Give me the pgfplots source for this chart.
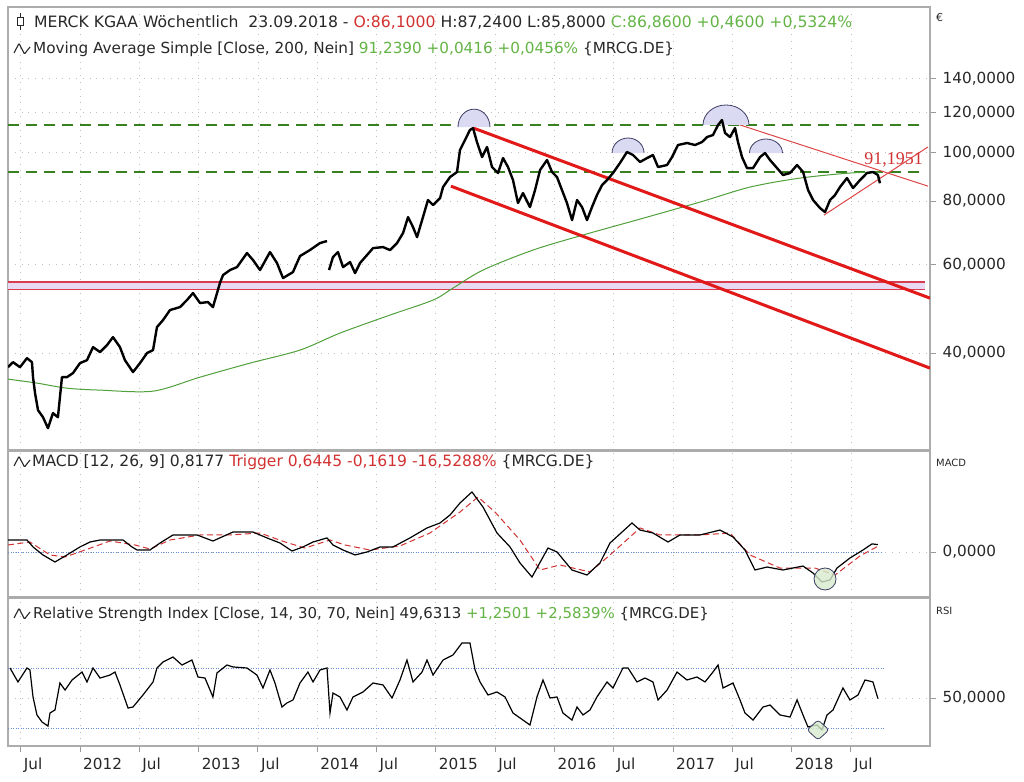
\documentclass[border=0pt]{standalone}
\usepackage{fontspec}
\setmainfont{DejaVu Sans}
\newfontfamily\lserif{Liberation Serif}
\usepackage{pgfplots}
\pgfplotsset{compat=1.18}
\definecolor{txt}{RGB}{40,40,40}
\definecolor{tred}{RGB}{210,50,50}
\definecolor{tgreen}{RGB}{100,180,70}
\definecolor{magreen}{RGB}{80,160,60}
\definecolor{dgreen}{RGB}{55,130,30}
\definecolor{chred}{RGB}{225,25,25}
\definecolor{thinred}{RGB}{220,70,70}
\definecolor{bandfill}{RGB}{232,218,242}
\definecolor{bandline}{RGB}{215,60,80}
\definecolor{semifill}{RGB}{218,218,242}
\definecolor{semidraw}{RGB}{60,60,100}
\definecolor{zblue}{RGB}{100,140,210}
\definecolor{circfill}{RGB}{215,235,205}

\pgfplotstableread{
t v
2011.393 37.51
2011.435 38.38
2011.494 37.51
2011.553 39.08
2011.595 38.38
2011.604 35.84
2011.621 33.32
2011.646 30.83
2011.688 29.85
2011.730 28.39
2011.772 30.41
2011.814 29.85
2011.848 35.84
2011.890 35.84
2011.941 36.51
2012.000 38.21
2012.059 38.73
2012.110 41.10
2012.169 40.18
2012.228 41.49
2012.278 43.02
2012.337 41.10
2012.379 38.73
2012.447 36.68
2012.506 38.21
2012.565 40.00
2012.616 40.55
2012.649 45.03
2012.700 46.50
2012.759 48.68
2012.843 49.34
2012.902 50.95
2012.953 52.61
2013.012 50.26
2013.079 50.49
2013.121 49.34
2013.180 55.07
2013.206 57.11
2013.265 58.43
2013.324 59.23
2013.408 63.15
2013.459 61.16
2013.518 58.43
2013.602 63.44
2013.661 60.33
2013.712 56.33
2013.796 57.90
2013.855 62.28
2013.939 64.02
2014.024 66.10
2014.083 66.71
}\priceA

\pgfplotstableread{
t v
2014.100 58.43
2014.133 61.99
2014.175 63.44
2014.218 59.23
2014.277 60.61
2014.319 57.64
2014.361 60.33
2014.420 62.57
2014.471 64.59
2014.555 64.89
2014.614 64.02
2014.673 66.10
2014.724 69.19
2014.766 74.41
2014.808 71.09
2014.842 67.92
2014.892 74.41
2014.934 80.44
2014.977 78.62
2015.036 81.15
2015.061 85.34
2015.120 89.33
2015.179 91.42
2015.204 101.07
2015.246 105.79
2015.288 110.73
2015.314 111.73
2015.347 104.84
2015.390 97.87
2015.432 102.45
2015.474 93.51
2015.525 91.00
2015.567 97.42
2015.609 93.51
2015.651 88.12
2015.693 79.35
2015.735 83.05
2015.794 77.90
2015.837 84.19
2015.879 92.25
2015.938 96.56
2015.980 91.42
2016.022 89.33
2016.064 84.19
2016.106 79.35
2016.149 73.41
2016.191 80.44
2016.233 77.90
2016.275 73.41
2016.317 77.90
2016.359 82.29
2016.402 86.13
2016.444 88.12
2016.494 91.00
2016.553 95.25
2016.612 100.16
2016.663 98.79
2016.722 95.69
2016.781 97.42
2016.831 98.79
2016.874 93.51
2016.950 94.38
2016.992 97.87
2017.042 103.40
2017.118 104.36
2017.186 103.40
2017.245 104.84
2017.287 107.23
2017.337 108.23
2017.380 113.28
2017.413 115.90
2017.439 109.23
2017.481 107.23
2017.523 111.73
2017.548 104.84
2017.582 97.87
2017.624 93.08
2017.675 93.08
2017.734 97.87
2017.776 99.70
2017.818 96.56
2017.877 93.08
2017.928 90.17
2017.987 91.00
2018.046 94.38
2018.097 91.42
2018.139 84.19
2018.181 80.44
2018.240 77.54
2018.282 76.15
2018.324 80.44
2018.366 82.29
2018.408 85.34
2018.467 88.92
2018.518 84.96
2018.577 88.12
2018.636 91.00
2018.686 91.42
2018.728 90.17
2018.745 86.86
}\priceB

\pgfplotstableread{
t v
2011.393 35.52
2011.637 34.88
2011.890 34.08
2012.169 33.78
2012.616 33.62
2013.012 35.84
2013.433 38.21
2013.855 40.55
2014.192 43.82
2014.614 47.58
2014.977 50.95
2015.145 53.81
2015.398 58.43
2015.820 64.02
2016.241 68.56
2016.722 73.75
2017.228 79.71
2017.650 85.34
2018.072 88.92
2018.494 91.00
2018.745 91.42
}\mavg

\pgfplotstableread{
t m
2011.393 1.33
2011.553 1.33
2011.604 0.56
2011.688 -0.33
2011.789 -1.11
2011.890 -0.33
2012.000 0.56
2012.084 1.11
2012.169 1.33
2012.363 1.33
2012.438 0.56
2012.481 0.22
2012.590 0.22
2012.675 1.00
2012.784 1.89
2012.987 1.89
2013.121 1.22
2013.290 2.22
2013.459 2.22
2013.577 1.56
2013.686 1.00
2013.788 0.11
2013.880 0.56
2013.965 1.11
2014.083 1.56
2014.133 0.78
2014.218 0.22
2014.319 -0.33
2014.420 0.00
2014.530 0.56
2014.639 0.56
2014.782 1.56
2014.926 2.67
2015.035 3.22
2015.120 4.11
2015.204 5.44
2015.305 6.67
2015.398 5.00
2015.516 2.11
2015.626 0.56
2015.710 -1.22
2015.811 -2.78
2015.946 0.44
2016.022 0.00
2016.148 -2.00
2016.275 -2.56
2016.384 -1.22
2016.469 1.00
2016.654 3.22
2016.722 2.44
2016.831 2.11
2016.958 1.11
2017.059 1.89
2017.228 1.89
2017.396 2.44
2017.506 1.67
2017.607 0.22
2017.691 -2.00
2017.793 -1.67
2017.927 -2.00
2018.096 -1.56
2018.180 -2.33
2018.256 -3.33
2018.324 -3.11
2018.383 -1.78
2018.492 -0.67
2018.602 0.22
2018.678 0.90
2018.728 0.82
}\macd

\pgfplotstableread{
t s
2011.393 0.78
2011.578 1.11
2011.747 -0.33
2011.874 -0.56
2012.042 0.22
2012.253 1.22
2012.464 0.78
2012.590 0.33
2012.759 1.33
2013.012 1.89
2013.265 1.89
2013.518 2.11
2013.729 1.11
2013.897 0.44
2014.108 1.33
2014.234 0.78
2014.445 0.22
2014.698 0.67
2014.951 2.11
2015.204 4.44
2015.356 6.11
2015.499 4.44
2015.710 1.33
2015.879 -2.00
2016.047 -1.44
2016.300 -2.22
2016.469 -0.33
2016.722 2.67
2016.890 1.89
2017.228 1.89
2017.481 2.11
2017.649 -0.33
2017.902 -1.78
2018.197 -1.78
2018.366 -2.56
2018.577 -0.44
2018.728 0.64
}\trigger

\pgfplotstableread{
t r
2011.410 70.0
2011.477 60.7
2011.553 70.0
2011.578 68.7
2011.604 50.7
2011.637 38.7
2011.680 34.0
2011.730 31.3
2011.747 40.0
2011.789 42.0
2011.831 60.0
2011.874 55.3
2011.933 62.0
2012.017 67.3
2012.059 60.7
2012.110 70.0
2012.169 63.3
2012.253 65.3
2012.295 67.3
2012.337 58.7
2012.405 43.3
2012.447 44.0
2012.531 52.0
2012.616 60.7
2012.649 70.0
2012.700 74.0
2012.784 77.3
2012.860 72.0
2012.944 75.3
2012.995 64.0
2013.054 63.3
2013.121 50.7
2013.155 66.7
2013.239 72.0
2013.290 70.7
2013.408 70.0
2013.492 65.3
2013.543 56.7
2013.602 68.7
2013.644 60.0
2013.703 44.0
2013.745 46.7
2013.796 48.7
2013.855 60.0
2013.922 67.3
2013.965 60.7
2014.024 68.7
2014.083 70.0
2014.108 40.0
2014.133 53.3
2014.192 50.7
2014.251 42.0
2014.302 50.7
2014.386 54.0
2014.471 60.0
2014.555 58.7
2014.631 50.0
2014.698 62.0
2014.757 75.3
2014.808 60.7
2014.884 67.3
2014.926 75.3
2014.977 65.3
2015.061 75.3
2015.145 78.7
2015.221 86.7
2015.288 86.7
2015.331 68.7
2015.373 60.7
2015.440 52.0
2015.516 54.0
2015.584 50.7
2015.651 40.0
2015.710 36.7
2015.794 32.0
2015.853 50.7
2015.904 62.0
2015.963 50.0
2016.022 50.7
2016.072 40.0
2016.148 35.3
2016.191 44.0
2016.241 38.7
2016.300 42.0
2016.359 50.7
2016.444 60.7
2016.494 56.7
2016.578 70.0
2016.621 70.0
2016.696 60.7
2016.764 63.3
2016.831 60.7
2016.874 48.7
2016.950 55.3
2017.034 67.3
2017.118 62.0
2017.202 64.0
2017.270 60.7
2017.337 67.3
2017.380 72.0
2017.422 56.7
2017.506 60.0
2017.565 48.7
2017.607 40.0
2017.675 35.3
2017.759 44.0
2017.818 45.3
2017.902 38.7
2017.987 37.3
2018.046 48.7
2018.096 38.7
2018.138 30.7
2018.214 32.0
2018.256 28.7
2018.299 38.7
2018.349 42.0
2018.433 56.7
2018.492 48.7
2018.560 52.0
2018.619 62.0
2018.686 60.7
2018.728 49.6
}\rsi

\pgfplotsset{
  panel/.style={
    scale only axis, width=922bp, anchor=south west,
    xmin=2011.393, xmax=2019.167,
    axis line style={draw=gray!65, line width=1.4bp},
    xtick={2011.5,2012,2012.5,2013,2013.5,2014,2014.5,2015,2015.5,2016,2016.5,2017,2017.5,2018,2018.5},
    grid=major,
    grid style={gray!50, line width=0.7bp, dash pattern=on 0.8bp off 6bp},
    ytick pos=right, yticklabel pos=right,
    tick align=outside, major tick length=6bp,
    tick style={gray!80, line width=0.9bp},
    yticklabel style={font=\fontsize{15.3}{18}\selectfont, text=txt, anchor=west, inner sep=1.5bp, xshift=5bp},
  },
  toppanel/.style={panel, xticklabels={}, every major x tick/.style={draw=none}},
}
\newcommand{\wave}[1]{\draw[txt, line width=1.1bp, rounded corners=0.8bp] (14bp,#1bp+1bp) -- (19bp,#1bp+10.5bp) -- (24.5bp,#1bp) -- (30bp,#1bp+7bp);}

\begin{document}
\fontsize{15.3}{18}\selectfont
\begin{tikzpicture}
\useasboundingbox (0bp,0bp) rectangle (1024bp,782bp);
\fill[white] (0bp,0bp) rectangle (1024bp,782bp);

% ---------------- price panel ----------------
\begin{axis}[toppanel, at={(8bp,332bp)}, height=443bp,
  ymode=log, ymin=25.7, ymax=194.2,
  ytick={40,60,80,100,120,140},
  yticklabels={{40,0000},{60,0000},{80,0000},{100,0000},{120,0000},{140,0000}}]
  \fill[bandfill] (axis cs:2011.393,53.5) rectangle (axis cs:2019.125,55.4);
  \addplot[bandline, line width=1.6bp] coordinates {(2011.393,53.5) (2019.125,53.5)};
  \addplot[bandline, line width=1.6bp] coordinates {(2011.393,55.4) (2019.125,55.4)};
  \addplot[dgreen, line width=2.6bp, dash pattern=on 11bp off 7bp] coordinates {(2011.393,113.3) (2019.083,113.3)};
  \addplot[dgreen, line width=2.6bp, dash pattern=on 11bp off 7bp] coordinates {(2011.393,91.5) (2019.083,91.5)};
  \addplot[magreen, line width=1bp, smooth] table[x=t, y=v] {\mavg};
  \addplot[chred, line width=3bp] coordinates {(2015.314,111.8) (2019.167,51.4)};
  \addplot[chred, line width=3bp] coordinates {(2015.128,85.7) (2019.167,37.35)};
  \addplot[thinred, line width=1bp] coordinates {(2017.413,116.4) (2019.150,85.7)};
  \addplot[thinred, line width=1bp] coordinates {(2018.273,75.1) (2019.150,102.5)};
  % semicircle highlights
  \fill[semifill, shift={(axis cs:2015.322,112.2)}] (-16bp,0bp) arc[start angle=180, end angle=0, x radius=16bp, y radius=18bp] -- cycle;
  \draw[semidraw, line width=0.8bp, shift={(axis cs:2015.322,112.2)}] (-16bp,0bp) arc[start angle=180, end angle=0, x radius=16bp, y radius=18bp];
  \fill[semifill, shift={(axis cs:2016.621,99.7)}] (-16bp,0bp) arc[start angle=180, end angle=0, x radius=16bp, y radius=15bp] -- cycle;
  \draw[semidraw, line width=0.8bp, shift={(axis cs:2016.621,99.7)}] (-16bp,0bp) arc[start angle=180, end angle=0, x radius=16bp, y radius=15bp];
  \fill[semifill, shift={(axis cs:2017.447,113.3)}] (-23bp,0bp) arc[start angle=180, end angle=0, x radius=23bp, y radius=20bp] -- cycle;
  \draw[semidraw, line width=0.8bp, shift={(axis cs:2017.447,113.3)}] (-23bp,0bp) arc[start angle=180, end angle=0, x radius=23bp, y radius=20bp];
  \fill[semifill, shift={(axis cs:2017.784,99.7)}] (-16.5bp,0bp) arc[start angle=180, end angle=0, x radius=16.5bp, y radius=14bp] -- cycle;
  \draw[semidraw, line width=0.8bp, shift={(axis cs:2017.784,99.7)}] (-16.5bp,0bp) arc[start angle=180, end angle=0, x radius=16.5bp, y radius=14bp];
  % price
  \addplot[black, line width=2.4bp, line join=round] table[x=t, y=v] {\priceA};
  \addplot[black, line width=2.4bp, line join=round] table[x=t, y=v] {\priceB};
  \node[text=tred, font=\lserif\fontsize{18}{20}\selectfont] at (axis cs:2018.86,96.5) {91,1951};
\end{axis}

% ---------------- MACD panel ----------------
\begin{axis}[toppanel, at={(8bp,185bp)}, height=146bp,
  ymin=-5, ymax=11.22, ytick={0}, yticklabels={{0,0000},{}}]
  \addplot[zblue, line width=0.9bp, dash pattern=on 1bp off 1.5bp] coordinates {(2011.393,0) (2018.76,0)};
  \addplot[tred, line width=1bp, dash pattern=on 6bp off 3.5bp] table[x=t, y=s] {\trigger};
  \addplot[black, line width=1.2bp] table[x=t, y=m] {\macd};
  \filldraw[fill=circfill, fill opacity=0.8, draw=semidraw, line width=0.8bp, shift={(axis cs:2018.282,-3.0)}] (0bp,0bp) circle[radius=11bp];
\end{axis}

% ---------------- RSI panel ----------------
\begin{axis}[panel, at={(8bp,36bp)}, height=148bp,
  ymin=18, ymax=116.67, ytick={50}, yticklabels={{50,0000},{}},
  xtick pos=bottom,
  xticklabels={Jul,2012,Jul,2013,Jul,2014,Jul,2015,Jul,2016,Jul,2017,Jul,2018,Jul},
  xticklabel style={font=\fontsize{15.3}{18}\selectfont, text=txt, anchor=north west, inner sep=2bp, xshift=1bp, yshift=-4bp}]
  \addplot[zblue, line width=0.9bp, dash pattern=on 1bp off 1.5bp] coordinates {(2011.393,70) (2018.78,70)};
  \addplot[zblue, line width=0.9bp, dash pattern=on 1bp off 1.5bp] coordinates {(2011.393,30) (2018.78,30)};
  \addplot[black, line width=1.2bp] table[x=t, y=r] {\rsi};
  \filldraw[fill=circfill, fill opacity=0.8, draw=semidraw, line width=0.8bp, rounded corners=3bp, shift={(axis cs:2018.223,28.7)}] (-11bp,0bp) -- (0bp,10bp) -- (11bp,0bp) -- (0bp,-10bp) -- cycle;
\end{axis}

% ---------------- titles ----------------
\draw[txt, line width=1bp] (20bp,769bp) -- (20bp,752bp);
\draw[txt, fill=white, line width=1bp] (17bp,756bp) rectangle (23bp,764bp);
\node[anchor=base west, inner sep=0bp, text=txt, font=\fontsize{15.7}{18}\selectfont] at (34bp,754bp) {MERCK KGAA Wöchentlich\ \ 23.09.2018 - \textcolor{tred}{O:86,1000} H:87,2400 L:85,8000 \textcolor{tgreen}{C:86,8600 +0,4600 +0,5324\%}};
\wave{728}
\node[anchor=base west, inner sep=0bp, text=txt, font=\fontsize{15.3}{18}\selectfont] at (33bp,728bp) {Moving Average Simple [Close, 200, Nein] \textcolor{tgreen}{91,2390 +0,0416 +0,0456\%} \{MRCG.DE\}};
\wave{315}
\node[anchor=base west, inner sep=0bp, text=txt, font=\fontsize{15.6}{18}\selectfont] at (32bp,315bp) {MACD [12, 26, 9] 0,8177 \textcolor{tred}{Trigger 0,6445 -0,1619 -16,5288\%} \{MRCG.DE\}};
\wave{163}
\node[anchor=base west, inner sep=0bp, text=txt, font=\fontsize{15.0}{18}\selectfont] at (33bp,163bp) {Relative Strength Index [Close, 14, 30, 70, Nein] 49,6313 \textcolor{tgreen}{+1,2501 +2,5839\%} \{MRCG.DE\}};
\node[anchor=west, inner sep=0bp, text=txt, font=\fontsize{11}{13}\selectfont] at (936bp,764bp) {€};
\node[anchor=west, inner sep=0bp, text=txt, font=\fontsize{10}{12}\selectfont] at (936bp,319bp) {MACD};
\node[anchor=west, inner sep=0bp, text=txt, font=\fontsize{10}{12}\selectfont] at (936bp,171bp) {RSI};
\end{tikzpicture}
\end{document}
